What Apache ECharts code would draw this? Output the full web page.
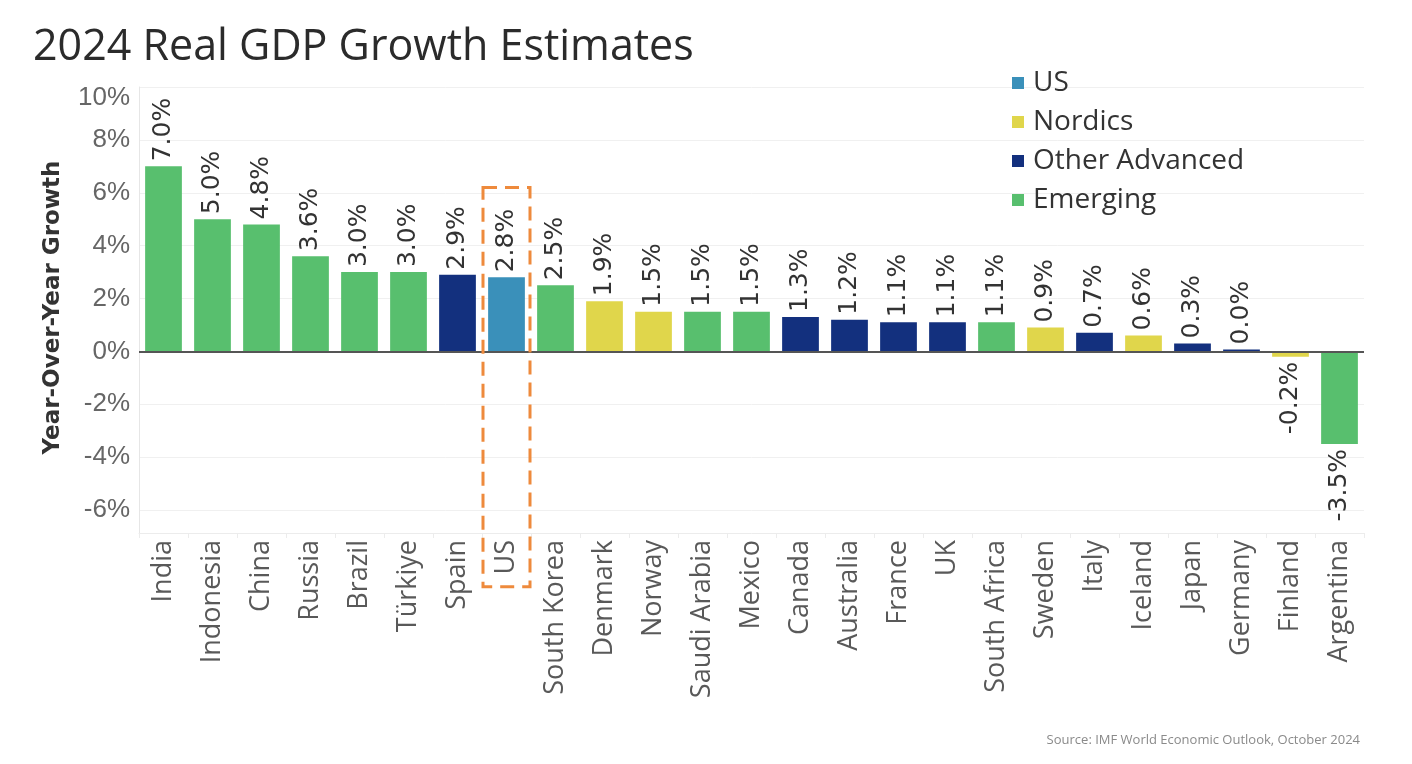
<!DOCTYPE html>
<html>
<head>
<meta charset="utf-8">
<script src="https://cdn.jsdelivr.net/npm/echarts@6/dist/echarts.min.js"></script>
<style>
html,body{margin:0;padding:0;background:#fff;}
#chart{width:1412px;height:764px;}
</style>
</head>
<body>
<div id="chart"></div>
<script>
const categories = ['India','Indonesia','China','Russia','Brazil','Türkiye','Spain','US','South Korea','Denmark','Norway','Saudi Arabia','Mexico','Canada','Australia','France','UK','South Africa','Sweden','Italy','Iceland','Japan','Germany','Finland','Argentina'];
const growth = [7.0,5.0,4.8,3.6,3.0,3.0,2.9,2.8,2.5,1.9,1.5,1.5,1.5,1.3,1.2,1.1,1.1,1.1,0.9,0.7,0.6,0.3,0.0,-0.2,-3.5];
const groupOf = ['Emerging','Emerging','Emerging','Emerging','Emerging','Emerging','Other Advanced','US','Emerging','Nordics','Nordics','Emerging','Emerging','Other Advanced','Other Advanced','Other Advanced','Other Advanced','Emerging','Nordics','Other Advanced','Nordics','Other Advanced','Other Advanced','Nordics','Emerging'];
const groups = ['US','Nordics','Other Advanced','Emerging'];
const groupColors = {'US':'#3A90BA','Nordics':'#E0D64B','Other Advanced':'#13307E','Emerging':'#58BF6E'};
const yTicks = {min:-6, max:10, interval:2};

const chart = echarts.init(document.getElementById('chart'));

const tickFont = '"Liberation Sans", Arial, sans-serif';

const series = groups.map(function(g, gi){
  return {
    name: g,
    type: 'bar',
    stack: 'all',
    barWidth: '75%',
    barMinHeight: 2,
    itemStyle: {color: groupColors[g]},
    data: growth.map(function(v, i){
      if (groupOf[i] !== g) return null;
      return {
        value: v,
        label: {
          show: true,
          rotate: 90,
          position: v < 0 ? 'bottom' : 'top',
          align: v < 0 ? 'right' : 'left',
          verticalAlign: 'middle',
          distance: 5,
          formatter: function(p){ return p.value.toFixed(1) + '%'; },
          fontFamily: '"DejaVu Sans", sans-serif',
          fontSize: 25,
          color: '#333'
        }
      };
    }),
    markLine: gi === 0 ? {
      silent: true,
      symbol: 'none',
      label: {show: false},
      lineStyle: {color: '#555', width: 2, type: 'solid'},
      data: [{yAxis: 0}],
      z: 10
    } : undefined,
    z: 3
  };
});

chart.setOption({
  animation: false,
  backgroundColor: '#fff',
  title: {
    text: '2024 Real GDP Growth Estimates',
    left: 28, top: 21,
    textStyle: {fontFamily: '"Open Sans", sans-serif', fontSize: 43, fontWeight: 'normal', color: '#2b2b2b'}
  },
  legend: {
    orient: 'vertical',
    left: 1007, top: 64,
    icon: 'rect',
    itemWidth: 12, itemHeight: 12,
    itemGap: 11,
    data: groups,
    textStyle: {fontFamily: '"Open Sans", sans-serif', fontSize: 28, lineHeight: 28, color: '#333', padding: [0,0,0,4]}
  },
  grid: {left: 139, right: 48, top: 87, bottom: 254, containLabel: false},
  xAxis: {
    type: 'category',
    data: categories,
    offset: 23,
    axisLine: {show: true, onZero: false, lineStyle: {color: '#ececec', width: 1}},
    axisTick: {show: true, length: 5, interval: 0, lineStyle: {color: '#ececec'}},
    axisLabel: {
      rotate: 90,
      margin: 7,
      interval: 0,
      fontFamily: '"Open Sans", sans-serif',
      fontSize: 27,
      color: '#595959'
    },
    splitLine: {show: false}
  },
  yAxis: {
    type: 'value',
    min: yTicks.min, max: yTicks.max, interval: yTicks.interval,
    name: 'Year-Over-Year Growth',
    nameLocation: 'middle',
    nameGap: 74,
    nameTextStyle: {fontFamily: '"DejaVu Sans", sans-serif', fontSize: 23, fontWeight: 'bold', color: '#333', padding: [0, 18, 0, 0]},
    axisLine: {show: true, lineStyle: {color: '#e6e6e6', width: 1}},
    axisTick: {show: false},
    axisLabel: {
      formatter: function(v){ return v === yTicks.max ? '{t|' + v + '%}' : v + '%'; },
      rich: {t: {padding: [22, 0, 0, 0], fontFamily: tickFont, fontSize: 26, color: '#666'}},
      margin: 9,
      fontFamily: tickFont,
      fontSize: 26,
      color: '#666'
    },
    splitLine: {lineStyle: {color: '#f0f0f0', width: 1}}
  },
  series: series
});

// US highlight rectangle and y-axis extension, positioned from the axis scales
const usIdx = categories.indexOf('US');
const cx = chart.convertToPixel({xAxisIndex: 0}, usIdx);
const nx = chart.convertToPixel({xAxisIndex: 0}, usIdx + 1);
const band = nx - cx;
const yTop = chart.convertToPixel({yAxisIndex: 0}, 6.2);
const yBottom = chart.convertToPixel({yAxisIndex: 0}, -8.9);
const yMinPx = chart.convertToPixel({yAxisIndex: 0}, yTicks.min);
const x0 = chart.convertToPixel({xAxisIndex: 0}, 0) - band / 2;
chart.setOption({
  graphic: [
    {
      type: 'line',
      shape: {x1: x0 + 0.5, y1: yMinPx, x2: x0 + 0.5, y2: yMinPx + 23},
      style: {stroke: '#e6e6e6', lineWidth: 1}
    },
    {
      type: 'rect',
      shape: {x: cx - band/2 + 1, y: yTop, width: band - 2, height: yBottom - yTop},
      style: {fill: 'none', stroke: '#EE8A3C', lineWidth: 3, lineDash: [14, 8]},
      z: 20
    },
    {
      type: 'text',
      right: 52, bottom: 17,
      style: {text: 'Source: IMF World Economic Outlook, October 2024', font: '13px "Open Sans", sans-serif', fill: '#8a8a8a'}
    }
  ]
});
</script>
</body>
</html>
